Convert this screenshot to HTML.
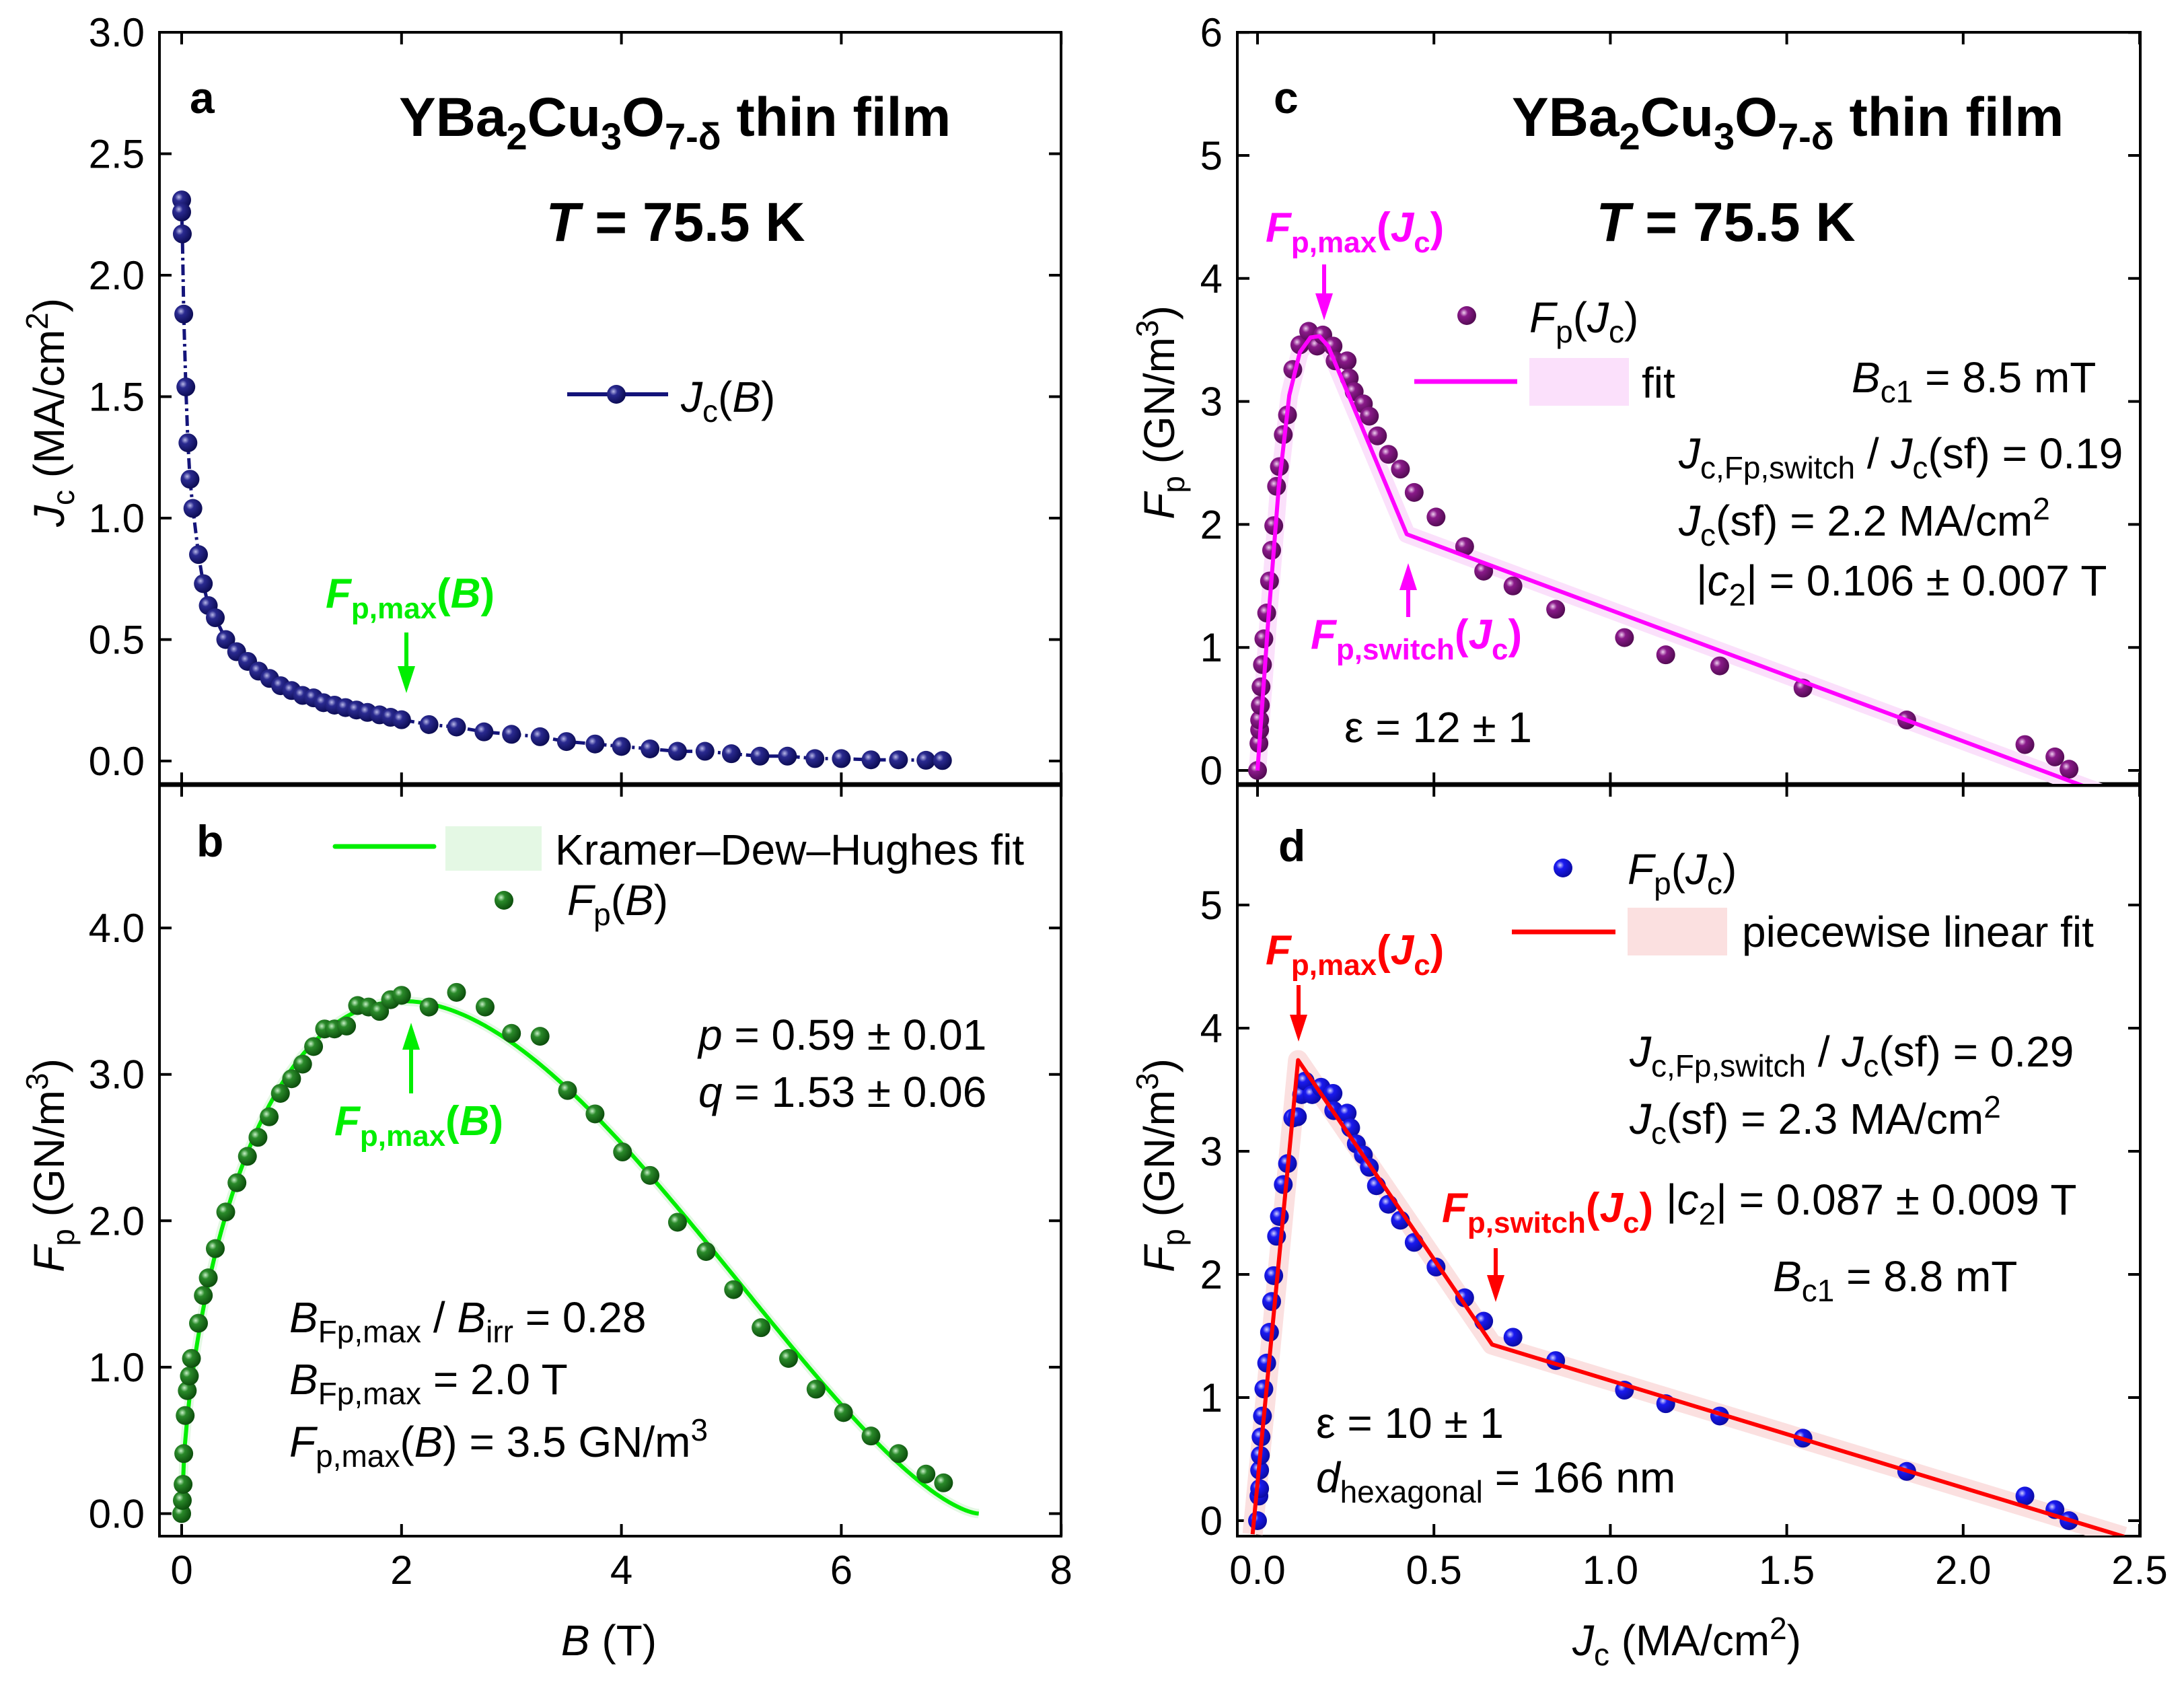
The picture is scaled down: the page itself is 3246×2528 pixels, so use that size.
<!DOCTYPE html>
<html><head><meta charset="utf-8">
<style>
html,body{margin:0;padding:0;background:#fff;}
svg{display:block;font-family:"Liberation Sans",sans-serif;}
text{font-family:"Liberation Sans",sans-serif;}
</style></head>
<body>
<svg id="fig" width="3246" height="2528" viewBox="0 0 3246 2528" xmlns="http://www.w3.org/2000/svg">
<defs>
<radialGradient id="gNavy" cx="0.35" cy="0.35" r="0.7"><stop offset="0" stop-color="#b8b8e8"/><stop offset="0.3" stop-color="#2a2a90"/><stop offset="1" stop-color="#0a0a50"/></radialGradient>
<radialGradient id="gGreen" cx="0.35" cy="0.35" r="0.7"><stop offset="0" stop-color="#c8f0c8"/><stop offset="0.3" stop-color="#2a8a2a"/><stop offset="1" stop-color="#0a4a0a"/></radialGradient>
<radialGradient id="gPurple" cx="0.35" cy="0.35" r="0.7"><stop offset="0" stop-color="#f0d0f0"/><stop offset="0.3" stop-color="#8a1a8a"/><stop offset="1" stop-color="#500a50"/></radialGradient>
<radialGradient id="gBlue" cx="0.35" cy="0.35" r="0.7"><stop offset="0" stop-color="#d0d0ff"/><stop offset="0.3" stop-color="#1a1af0"/><stop offset="1" stop-color="#0a0aa0"/></radialGradient>
<clipPath id="clipA"><rect x="237" y="48" width="1340" height="1117"/></clipPath>
<clipPath id="clipB"><rect x="237" y="1167" width="1340" height="1115"/></clipPath>
<clipPath id="clipC"><rect x="1839" y="48" width="1342" height="1117"/></clipPath>
<clipPath id="clipD"><rect x="1839" y="1167" width="1342" height="1115"/></clipPath>
</defs>

<g id="axesLayer"></g>
<g id="marksLayer"></g>

<!-- Panel a annotations -->
<text x="282" y="168" font-size="66" font-weight="bold">a</text>
<text x="593" y="202" font-size="82" font-weight="bold">YBa<tspan font-size="56" dy="20">2</tspan><tspan dy="-20">Cu</tspan><tspan font-size="56" dy="20">3</tspan><tspan dy="-20">O</tspan><tspan font-size="56" dy="20">7-δ</tspan><tspan dy="-20"> thin film</tspan></text>
<text x="1004" y="358" font-size="82" font-weight="bold" text-anchor="middle"><tspan font-style="italic">T</tspan> = 75.5 K</text>
<text x="1012" y="612" font-size="64"><tspan font-style="italic">J</tspan><tspan font-size="46" dy="15">c</tspan><tspan dy="-15">(</tspan><tspan font-style="italic">B</tspan>)</text>
<text x="484" y="903" font-size="62" font-weight="bold" font-style="italic" fill="#00ee00">F<tspan font-size="44" dy="16" font-style="normal">p,max</tspan><tspan dy="-16" font-style="normal">(</tspan>B<tspan font-style="normal">)</tspan></text>
<text transform="translate(95,613) rotate(-90)" font-size="64" text-anchor="middle"><tspan font-style="italic">J</tspan><tspan font-size="46" dy="15">c</tspan><tspan dy="-15"> (MA/cm</tspan><tspan font-size="46" dy="-24">2</tspan><tspan dy="24">)</tspan></text>

<!-- Panel b annotations -->
<text x="292" y="1273" font-size="66" font-weight="bold">b</text>
<rect x="662" y="1228" width="143" height="66" fill="#e4f8e4"/>
<text x="825" y="1285" font-size="64">Kramer–Dew–Hughes fit</text>
<text x="843" y="1360" font-size="64"><tspan font-style="italic">F</tspan><tspan font-size="46" dy="15">p</tspan><tspan dy="-15">(</tspan><tspan font-style="italic">B</tspan>)</text>
<text x="497" y="1687" font-size="62" font-weight="bold" font-style="italic" fill="#00ee00">F<tspan font-size="44" dy="16" font-style="normal">p,max</tspan><tspan dy="-16" font-style="normal">(</tspan>B<tspan font-style="normal">)</tspan></text>
<text x="1038" y="1560" font-size="64"><tspan font-style="italic">p</tspan> = 0.59 ± 0.01</text>
<text x="1038" y="1645" font-size="64"><tspan font-style="italic">q</tspan> = 1.53 ± 0.06</text>
<text x="430" y="1980" font-size="64"><tspan font-style="italic">B</tspan><tspan font-size="46" dy="15">Fp,max</tspan><tspan dy="-15"> / </tspan><tspan font-style="italic">B</tspan><tspan font-size="46" dy="15">irr</tspan><tspan dy="-15"> = 0.28</tspan></text>
<text x="430" y="2072" font-size="64"><tspan font-style="italic">B</tspan><tspan font-size="46" dy="15">Fp,max</tspan><tspan dy="-15"> = 2.0 T</tspan></text>
<text x="430" y="2165" font-size="64"><tspan font-style="italic">F</tspan><tspan font-size="46" dy="15">p,max</tspan><tspan dy="-15">(</tspan><tspan font-style="italic">B</tspan>) = 3.5 GN/m<tspan font-size="46" dy="-24">3</tspan></text>
<text transform="translate(95,1732) rotate(-90)" font-size="64" text-anchor="middle"><tspan font-style="italic">F</tspan><tspan font-size="46" dy="15">p</tspan><tspan dy="-15"> (GN/m</tspan><tspan font-size="46" dy="-24">3</tspan><tspan dy="24">)</tspan></text>
<text x="905" y="2460" font-size="64" text-anchor="middle"><tspan font-style="italic">B</tspan> (T)</text>

<!-- Panel c annotations -->
<text x="1893" y="168" font-size="66" font-weight="bold">c</text>
<text x="2247" y="202" font-size="82" font-weight="bold">YBa<tspan font-size="56" dy="20">2</tspan><tspan dy="-20">Cu</tspan><tspan font-size="56" dy="20">3</tspan><tspan dy="-20">O</tspan><tspan font-size="56" dy="20">7-δ</tspan><tspan dy="-20"> thin film</tspan></text>
<text x="2565" y="358" font-size="82" font-weight="bold" text-anchor="middle"><tspan font-style="italic">T</tspan> = 75.5 K</text>
<text x="1881" y="359" font-size="62" font-weight="bold" font-style="italic" fill="#ff00ff">F<tspan font-size="44" dy="16" font-style="normal">p,max</tspan><tspan dy="-16" font-style="normal">(</tspan>J<tspan font-size="44" dy="16" font-style="normal">c</tspan><tspan dy="-16" font-style="normal">)</tspan></text>
<text x="2273" y="494" font-size="64"><tspan font-style="italic">F</tspan><tspan font-size="46" dy="15">p</tspan><tspan dy="-15">(</tspan><tspan font-style="italic">J</tspan><tspan font-size="46" dy="15">c</tspan><tspan dy="-15">)</tspan></text>
<rect x="2273" y="532" width="148" height="71" fill="#fbe0fb"/>
<text x="2440" y="591" font-size="64">fit</text>
<text x="2752" y="583" font-size="64"><tspan font-style="italic">B</tspan><tspan font-size="46" dy="15">c1</tspan><tspan dy="-15"> = 8.5 mT</tspan></text>
<text x="2495" y="696" font-size="64"><tspan font-style="italic">J</tspan><tspan font-size="46" dy="15">c,Fp,switch</tspan><tspan dy="-15"> / </tspan><tspan font-style="italic">J</tspan><tspan font-size="46" dy="15">c</tspan><tspan dy="-15">(sf) = 0.19</tspan></text>
<text x="2495" y="796" font-size="64"><tspan font-style="italic">J</tspan><tspan font-size="46" dy="15">c</tspan><tspan dy="-15">(sf) = 2.2 MA/cm</tspan><tspan font-size="46" dy="-24">2</tspan></text>
<text x="2521" y="885" font-size="64">|<tspan font-style="italic">c</tspan><tspan font-size="46" dy="15">2</tspan><tspan dy="-15">| = 0.106 ± 0.007 T</tspan></text>
<text x="1948" y="964" font-size="62" font-weight="bold" font-style="italic" fill="#ff00ff">F<tspan font-size="44" dy="16" font-style="normal">p,switch</tspan><tspan dy="-16" font-style="normal">(</tspan>J<tspan font-size="44" dy="16" font-style="normal">c</tspan><tspan dy="-16" font-style="normal">)</tspan></text>
<text x="1998" y="1103" font-size="64">ε = 12 ± 1</text>
<text transform="translate(1745,613) rotate(-90)" font-size="64" text-anchor="middle"><tspan font-style="italic">F</tspan><tspan font-size="46" dy="15">p</tspan><tspan dy="-15"> (GN/m</tspan><tspan font-size="46" dy="-24">3</tspan><tspan dy="24">)</tspan></text>

<!-- Panel d annotations -->
<text x="1900" y="1280" font-size="66" font-weight="bold">d</text>
<text x="2419" y="1314" font-size="64"><tspan font-style="italic">F</tspan><tspan font-size="46" dy="15">p</tspan><tspan dy="-15">(</tspan><tspan font-style="italic">J</tspan><tspan font-size="46" dy="15">c</tspan><tspan dy="-15">)</tspan></text>
<rect x="2419" y="1349" width="148" height="71" fill="#fbe0e0"/>
<text x="2589" y="1407" font-size="64">piecewise linear fit</text>
<text x="1881" y="1433" font-size="62" font-weight="bold" font-style="italic" fill="#ff0000">F<tspan font-size="44" dy="16" font-style="normal">p,max</tspan><tspan dy="-16" font-style="normal">(</tspan>J<tspan font-size="44" dy="16" font-style="normal">c</tspan><tspan dy="-16" font-style="normal">)</tspan></text>
<text x="2422" y="1585" font-size="64"><tspan font-style="italic">J</tspan><tspan font-size="46" dy="15">c,Fp,switch</tspan><tspan dy="-15"> / </tspan><tspan font-style="italic">J</tspan><tspan font-size="46" dy="15">c</tspan><tspan dy="-15">(sf) = 0.29</tspan></text>
<text x="2422" y="1685" font-size="64"><tspan font-style="italic">J</tspan><tspan font-size="46" dy="15">c</tspan><tspan dy="-15">(sf) = 2.3 MA/cm</tspan><tspan font-size="46" dy="-24">2</tspan></text>
<text x="2143" y="1816" font-size="62" font-weight="bold" font-style="italic" fill="#ff0000">F<tspan font-size="44" dy="16" font-style="normal">p,switch</tspan><tspan dy="-16" font-style="normal">(</tspan>J<tspan font-size="44" dy="16" font-style="normal">c</tspan><tspan dy="-16" font-style="normal">)</tspan></text>
<text x="2476" y="1805" font-size="64">|<tspan font-style="italic">c</tspan><tspan font-size="46" dy="15">2</tspan><tspan dy="-15">| = 0.087 ± 0.009 T</tspan></text>
<text x="2635" y="1919" font-size="64"><tspan font-style="italic">B</tspan><tspan font-size="46" dy="15">c1</tspan><tspan dy="-15"> = 8.8 mT</tspan></text>
<text x="1956" y="2137" font-size="64">ε = 10 ± 1</text>
<text x="1956" y="2218" font-size="64"><tspan font-style="italic">d</tspan><tspan font-size="46" dy="15">hexagonal</tspan><tspan dy="-15"> = 166 nm</tspan></text>
<text transform="translate(1745,1732) rotate(-90)" font-size="64" text-anchor="middle"><tspan font-style="italic">F</tspan><tspan font-size="46" dy="15">p</tspan><tspan dy="-15"> (GN/m</tspan><tspan font-size="46" dy="-24">3</tspan><tspan dy="24">)</tspan></text>
<text x="2507" y="2460" font-size="64" text-anchor="middle"><tspan font-style="italic">J</tspan><tspan font-size="46" dy="15">c</tspan><tspan dy="-15"> (MA/cm</tspan><tspan font-size="46" dy="-24">2</tspan><tspan dy="24">)</tspan></text>
</svg>

<script>
// ---------- Data ----------
// Panel a: Jc(B)
const aB  = [0,0,0.006,0.019,0.038,0.057,0.076,0.102,0.153,0.197,0.242,0.306,0.401,0.50,0.60,0.70,0.80,0.90,1.0,1.1,1.2,1.29,1.39,1.49,1.59,1.69,1.8,1.9,2.0,2.25,2.5,2.75,3.0,3.26,3.5,3.76,4.0,4.26,4.51,4.76,5.0,5.26,5.51,5.76,6.0,6.27,6.52,6.77,6.92];
const aJc = [2.31,2.26,2.17,1.84,1.54,1.31,1.16,1.04,0.85,0.73,0.64,0.59,0.50,0.45,0.41,0.37,0.34,0.31,0.29,0.27,0.26,0.24,0.23,0.22,0.21,0.20,0.19,0.18,0.17,0.15,0.14,0.12,0.11,0.10,0.08,0.07,0.06,0.05,0.04,0.04,0.03,0.02,0.02,0.01,0.01,0.005,0.005,0.003,0.002];
// Panel b: Fp(B)
const bB  = [0,0.006,0.013,0.019,0.032,0.051,0.07,0.089,0.153,0.197,0.242,0.306,0.401,0.503,0.598,0.694,0.796,0.898,1.0,1.1,1.2,1.3,1.39,1.5,1.6,1.7,1.8,1.9,2.0,2.25,2.5,2.76,3.0,3.26,3.51,3.76,4.01,4.26,4.51,4.77,5.02,5.27,5.52,5.77,6.02,6.27,6.52,6.77,6.93];
const bFp = [0,0.09,0.2,0.41,0.67,0.84,0.94,1.06,1.30,1.49,1.61,1.81,2.06,2.26,2.44,2.57,2.71,2.87,2.97,3.07,3.19,3.31,3.31,3.33,3.47,3.46,3.43,3.51,3.54,3.46,3.56,3.46,3.28,3.26,2.89,2.73,2.47,2.31,1.99,1.79,1.53,1.27,1.06,0.85,0.69,0.53,0.41,0.27,0.21];
// KDH fit parameters
const kdhP = 0.59, kdhQ = 1.53, kdhBirr = 7.25, kdhFmax = 3.5;
// Panel c: Fp(Jc)
const cJc = [0,0.004,0.006,0.006,0.008,0.01,0.014,0.018,0.026,0.034,0.04,0.046,0.054,0.062,0.073,0.085,0.10,0.12,0.145,0.169,0.185,0.214,0.22,0.254,0.26,0.274,0.30,0.317,0.34,0.371,0.405,0.444,0.506,0.587,0.641,0.724,0.845,1.04,1.157,1.31,1.546,1.84,2.175,2.26,2.30];
const cFp = [0,0.22,0.33,0.41,0.53,0.68,0.86,1.07,1.28,1.54,1.79,1.99,2.31,2.47,2.73,2.89,3.26,3.46,3.57,3.45,3.54,3.45,3.33,3.33,3.19,3.08,2.98,2.88,2.72,2.57,2.45,2.26,2.06,1.82,1.62,1.50,1.31,1.08,0.94,0.85,0.67,0.41,0.21,0.11,0.01];
const cFitJ = [0,0.03,0.06,0.09,0.12,0.15,0.175,0.2,0.423,2.4];
const cFitF = [0,1.2,2.3,3.05,3.4,3.52,3.53,3.45,1.92,-0.19];
// Panel d: Fp(Jc)
const dJc = [0,0.004,0.006,0.006,0.008,0.01,0.014,0.018,0.026,0.034,0.04,0.046,0.054,0.062,0.073,0.085,0.10,0.113,0.125,0.135,0.155,0.18,0.214,0.216,0.254,0.264,0.28,0.30,0.317,0.337,0.371,0.405,0.444,0.506,0.587,0.641,0.724,0.845,1.04,1.157,1.31,1.546,1.84,2.175,2.26,2.30];
const dFp = [0,0.2,0.26,0.41,0.53,0.68,0.85,1.07,1.28,1.53,1.78,1.99,2.31,2.47,2.73,2.9,3.27,3.28,3.46,3.57,3.46,3.52,3.47,3.33,3.31,3.19,3.06,2.97,2.87,2.72,2.57,2.44,2.26,2.06,1.81,1.62,1.49,1.30,1.06,0.95,0.85,0.67,0.40,0.20,0.09,0];
const dFitJ = [-0.014,0.115,0.665,2.456];
const dFitF = [-0.11,3.74,1.43,-0.13];
// Ticks
const leftXTicks = [0,2,4,6,8];
const leftXLabels = ["0","2","4","6","8"];
const aYTicks = [0,0.5,1,1.5,2,2.5,3];
const aYLabels = ["0.0","0.5","1.0","1.5","2.0","2.5","3.0"];
const bYTicks = [0,1,2,3,4];
const bYLabels = ["0.0","1.0","2.0","3.0","4.0"];
const rightXTicks = [0,0.5,1,1.5,2,2.5];
const rightXLabels = ["0.0","0.5","1.0","1.5","2.0","2.5"];
const cYTicks = [0,1,2,3,4,5,6];
const cYLabels = ["0","1","2","3","4","5","6"];
const dYTicks = [0,1,2,3,4,5];
const dYLabels = ["0","1","2","3","4","5"];

// ---------- Scales ----------
const xL = v => 270 + v*163.4;
const yA = v => 1131 - v*361;
const yB = v => 2249.5 - v*217.6;
const xR = v => 1869 + v*524.4;
const yC = v => 1145 - v*182.8;
const yD = v => 2260 - v*183;

const NS = "http://www.w3.org/2000/svg";
const axesLayer = document.getElementById('axesLayer');
const marksLayer = document.getElementById('marksLayer');
function mk(tag, attrs, parent){
  const e = document.createElementNS(NS, tag);
  for (const k in attrs) e.setAttribute(k, attrs[k]);
  (parent||marksLayer).appendChild(e);
  return e;
}

// ---------- Frames & ticks ----------
function frame(x0,y0,x1,y1,name){
  const r = mk('rect',{x:x0,y:y0,width:x1-x0,height:y1-y0,fill:'none',stroke:'#000','stroke-width':4},axesLayer);
  
  
}
frame(237,48,1577,1166,'panel-a-frame');
frame(237,1166,1577,2283,'panel-b-frame');
frame(1839,48,3181,1166,'panel-c-frame');
frame(1839,1166,3181,2283,'panel-d-frame');
[[237,1577],[1839,3181]].forEach(([a,b])=>{
  const l = mk('line',{x1:a,y1:1166,x2:b,y2:1166,stroke:'#000','stroke-width':7},axesLayer);
  
  
});

function yTicks(vals, labels, sy, x0, x1, name){
  vals.forEach((v,i)=>{
    const y = sy(v);
    const t1 = mk('line',{x1:x0,y1:y,x2:x0+18,y2:y,stroke:'#000','stroke-width':4},axesLayer);
    
    
    const t2 = mk('line',{x1:x1-18,y1:y,x2:x1,y2:y,stroke:'#000','stroke-width':4},axesLayer);
    
    
    const tx = mk('text',{x:x0-22,y:y+21,'font-size':60,'text-anchor':'end'},axesLayer);
    tx.textContent = labels[i];
    
    
  });
}
yTicks(aYTicks,aYLabels,yA,237,1577,'y-axis-a');
yTicks(bYTicks,bYLabels,yB,237,1577,'y-axis-b');
yTicks(cYTicks,cYLabels,yC,1839,3181,'y-axis-c');
yTicks(dYTicks,dYLabels,yD,1839,3181,'y-axis-d');

function xTicks(vals, labels, sx, yTop, yMid, yBot, name){
  vals.forEach((v,i)=>{
    const x = sx(v);
    [[yTop,yTop+18],[yMid-18,yMid+18],[yBot-18,yBot]].forEach(([a,b])=>{
      const t = mk('line',{x1:x,y1:a,x2:x,y2:b,stroke:'#000','stroke-width':4},axesLayer);
      
      
    });
    const tx = mk('text',{x:x,y:2354,'font-size':60,'text-anchor':'middle'},axesLayer);
    tx.textContent = labels[i];
    
    
  });
}
xTicks(leftXTicks,leftXLabels,xL,48,1166,2283,'x-axis-left');
xTicks(rightXTicks,rightXLabels,xR,48,1166,2283,'x-axis-right');

// ---------- Marks ----------
function poly(xs, ys, sx, sy, color, w, clip, name, dash){
  const pts = xs.map((v,i)=>sx(v).toFixed(1)+','+sy(ys[i]).toFixed(1)).join(' ');
  const p = mk('polyline',{points:pts,fill:'none',stroke:color,'stroke-width':w,'stroke-linejoin':'round','clip-path':'url(#'+clip+')'});
  if (dash) p.setAttribute('stroke-dasharray', dash);
  
  
  return p;
}
function band(xs, ys, sx, sy, color, halfw, clip, name){
  const pts = xs.map((v,i)=>sx(v).toFixed(1)+','+sy(ys[i]).toFixed(1)).join(' ');
  const p = mk('polyline',{points:pts,fill:'none',stroke:color,'stroke-width':halfw,'stroke-linejoin':'round','clip-path':'url(#'+clip+')'});
  
  
}
function dots(xs, ys, sx, sy, grad, r, clip, name){
  xs.forEach((v,i)=>{
    const c = mk('circle',{cx:sx(v),cy:sy(ys[i]),r:r,fill:'url(#'+grad+')','clip-path':'url(#'+clip+')'});
    
    
  });
}
function arrow(x, yFrom, yTo, color, name){
  const dir = yTo > yFrom ? 1 : -1;
  const l = mk('line',{x1:x,y1:yFrom,x2:x,y2:yTo-dir*36,stroke:color,'stroke-width':6});
  
  
  const h = mk('polygon',{points:`${x-13},${yTo-dir*40} ${x+13},${yTo-dir*40} ${x},${yTo}`,fill:color});
  
  
}

// Panel a
poly(aB, aJc, xL, yA, '#14147a', 5, 'clipA', 'jc-line', '16,6,4,6');
dots(aB, aJc, xL, yA, 'gNavy', 14, 'clipA', 'jc-point');
const la = mk('line',{x1:843,y1:586,x2:993,y2:586,stroke:'#14147a','stroke-width':6});


const ld = mk('circle',{cx:916,cy:586,r:14,fill:'url(#gNavy)'});


arrow(604, 940, 1030, '#00ee00', 'fpmax-arrow-a');

// Panel b: KDH fit
const kb0 = kdhP/(kdhP+kdhQ);
const kA = kdhFmax/(Math.pow(kb0,kdhP)*Math.pow(1-kb0,kdhQ));
const kdhB = [], kdhF = [];
for (let i=0;i<=300;i++){ const B=kdhBirr*i/300; const b=B/kdhBirr; kdhB.push(B); kdhF.push(kA*Math.pow(b,kdhP)*Math.pow(1-b,kdhQ)); }
band(kdhB, kdhF, xL, yB, '#e4f8e4', 14, 'clipB', 'kdh-fit-band');
poly(kdhB, kdhF, xL, yB, '#00ee00', 6, 'clipB', 'kdh-fit-line');
dots(bB, bFp, xL, yB, 'gGreen', 14, 'clipB', 'fpb-point');
const lb = mk('line',{x1:498,y1:1258,x2:645,y2:1258,stroke:'#00ee00','stroke-width':7,'stroke-linecap':'round'});


const lbd = mk('circle',{cx:749,cy:1338,r:14,fill:'url(#gGreen)'});


arrow(611, 1625, 1520, '#00ee00', 'fpmax-arrow-b');

// Panel c
band(cFitJ, cFitF, xR, yC, '#fbe0fb', 26, 'clipC', 'fit-band-c');
dots(cJc, cFp, xR, yC, 'gPurple', 14, 'clipC', 'fpjc-point-c');
poly(cFitJ, cFitF, xR, yC, '#ff00ff', 6, 'clipC', 'fit-line-c');
const lc = mk('line',{x1:2102,y1:567,x2:2255,y2:567,stroke:'#ff00ff','stroke-width':7});


const lcd = mk('circle',{cx:2180,cy:469,r:14,fill:'url(#gPurple)'});


arrow(1968, 393, 476, '#ff00ff', 'fpmax-arrow-c');
arrow(2093, 917, 837, '#ff00ff', 'fpswitch-arrow-c');

// Panel d
band(dFitJ, dFitF, xR, yD, '#fbe0e0', 30, 'clipD', 'fit-band-d');
dots(dJc, dFp, xR, yD, 'gBlue', 14, 'clipD', 'fpjc-point-d');
poly(dFitJ, dFitF, xR, yD, '#ff0000', 6, 'clipD', 'fit-line-d');
const ldl = mk('line',{x1:2247,y1:1385,x2:2401,y2:1385,stroke:'#ff0000','stroke-width':7});


const ldd = mk('circle',{cx:2323,cy:1290,r:14,fill:'url(#gBlue)'});


arrow(1930, 1464, 1548, '#ff0000', 'fpmax-arrow-d');
arrow(2223, 1855, 1935, '#ff0000', 'fpswitch-arrow-d');
</script>
</body></html>
